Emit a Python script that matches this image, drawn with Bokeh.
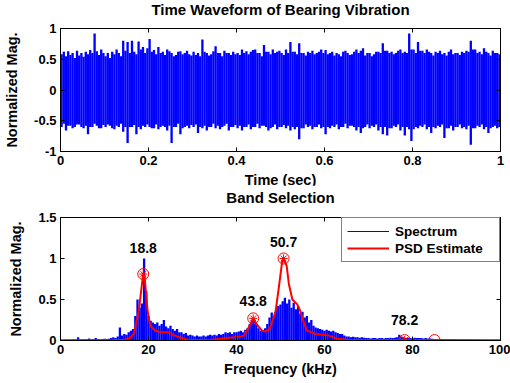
import numpy as np
from bokeh.plotting import figure
from bokeh.models import Range1d, LinearAxis, FixedTicker, Legend, LegendItem
from bokeh.layouts import column
from bokeh.embed import file_html
from bokeh.resources import INLINE
from bokeh.core.properties import value

FONT = "Liberation Sans"

# ---------------- data ----------------
# time waveform, one column every 0.005 s: positive and negative excursions
wave_up = [0.58, 0.62, 0.55, 0.63, 0.57, 0.60, 0.52, 0.64, 0.56, 0.60,
           0.54, 0.62, 0.58, 0.65, 0.60, 0.92, 0.63, 0.57, 0.66, 0.60,
           0.55, 0.60, 0.52, 0.62, 0.58, 0.66, 0.60, 0.55, 0.80, 0.64,
           0.78, 0.60, 0.80, 0.62, 0.58, 0.79, 0.66, 0.70, 0.60, 0.68,
           0.83, 0.62, 0.65, 0.58, 0.70, 0.60, 0.62, 0.57, 0.66, 0.63,
           0.60, 0.55, 0.57, 0.62, 0.63, 0.58, 0.60, 0.64, 0.58, 0.56,
           0.62, 0.57, 0.60, 0.55, 0.82, 0.62, 0.60, 0.56, 0.58, 0.63,
           0.71, 0.60, 0.60, 0.55, 0.64, 0.60, 0.60, 0.57, 0.62, 0.58,
           0.60, 0.57, 0.66, 0.60, 0.63, 0.58, 0.62, 0.65, 0.66, 0.60,
           0.60, 0.55, 0.73, 0.62, 0.62, 0.58, 0.66, 0.60, 0.62, 0.64,
           0.60, 0.57, 0.66, 0.60, 0.78, 0.62, 0.62, 0.58, 0.76, 0.60,
           0.60, 0.56, 0.62, 0.60, 0.64, 0.58, 0.60, 0.62, 0.66, 0.60,
           0.65, 0.58, 0.60, 0.62, 0.56, 0.60, 0.58, 0.55, 0.62, 0.64,
           0.60, 0.57, 0.58, 0.62, 0.66, 0.60, 0.64, 0.68, 0.56, 0.60,
           0.60, 0.55, 0.58, 0.62, 0.62, 0.60, 0.76, 0.64, 0.64, 0.60,
           0.62, 0.58, 0.60, 0.64, 0.66, 0.60, 0.62, 0.60, 0.92, 0.66,
           0.66, 0.60, 0.78, 0.64, 0.64, 0.60, 0.66, 0.62, 0.60, 0.56,
           0.62, 0.60, 0.64, 0.58, 0.60, 0.56, 0.62, 0.66, 0.58, 0.60,
           0.60, 0.57, 0.62, 0.60, 0.64, 0.62, 0.80, 0.66, 0.66, 0.60,
           0.62, 0.58, 0.68, 0.62, 0.60, 0.56, 0.64, 0.60, 0.60, 0.58]
wave_dn = [-0.60, -0.55, -0.66, -0.58, -0.58, -0.62, -0.60, -0.56, -0.56, -0.60,
           -0.62, -0.58, -0.72, -0.60, -0.60, -0.55, -0.58, -0.62, -0.62, -0.57,
           -0.60, -0.56, -0.58, -0.62, -0.64, -0.58, -0.60, -0.55, -0.68, -0.60,
           -0.86, -0.60, -0.60, -0.57, -0.72, -0.60, -0.64, -0.58, -0.60, -0.56,
           -0.60, -0.62, -0.62, -0.56, -0.64, -0.60, -0.58, -0.60, -0.66, -0.58,
           -0.86, -0.60, -0.60, -0.55, -0.72, -0.62, -0.60, -0.58, -0.62, -0.57,
           -0.60, -0.56, -0.70, -0.60, -0.62, -0.58, -0.66, -0.60, -0.60, -0.55,
           -0.62, -0.58, -0.64, -0.60, -0.58, -0.55, -0.66, -0.60, -0.60, -0.57,
           -0.62, -0.58, -0.66, -0.60, -0.60, -0.56, -0.64, -0.60, -0.60, -0.55,
           -0.62, -0.58, -0.58, -0.60, -0.66, -0.62, -0.60, -0.56, -0.64, -0.60,
           -0.60, -0.57, -0.62, -0.58, -0.66, -0.60, -0.64, -0.60, -0.80, -0.62,
           -0.62, -0.56, -0.60, -0.58, -0.64, -0.60, -0.60, -0.56, -0.62, -0.60,
           -0.72, -0.60, -0.62, -0.58, -0.60, -0.56, -0.64, -0.60, -0.60, -0.55,
           -0.62, -0.58, -0.58, -0.60, -0.66, -0.60, -0.70, -0.62, -0.60, -0.56,
           -0.62, -0.58, -0.60, -0.56, -0.66, -0.60, -0.72, -0.60, -0.74, -0.62,
           -0.62, -0.58, -0.60, -0.56, -0.66, -0.60, -0.74, -0.60, -0.64, -0.83,
           -0.64, -0.60, -0.62, -0.58, -0.60, -0.56, -0.64, -0.60, -0.70, -0.60,
           -0.62, -0.58, -0.60, -0.56, -0.78, -0.62, -0.62, -0.58, -0.66, -0.60,
           -0.60, -0.56, -0.62, -0.60, -0.64, -0.58, -0.89, -0.62, -0.62, -0.58,
           -0.60, -0.56, -0.64, -0.60, -0.70, -0.62, -0.60, -0.58, -0.62, -0.60]
wave_step = 0.005

# spectrum magnitude, bins every 0.5 kHz from 0 to 100 kHz
spectrum = [0.005, 0.006, 0.008, 0.006, 0.010, 0.008, 0.012, 0.010, 0.040, 0.012,
            0.010, 0.015, 0.012, 0.025, 0.012, 0.015, 0.030, 0.014, 0.012, 0.015,
            0.020, 0.015, 0.020, 0.030, 0.040, 0.030, 0.050, 0.160, 0.060, 0.080,
            0.070, 0.100, 0.120, 0.140, 0.300, 0.500, 0.400, 0.450, 1.000, 0.600,
            0.300, 0.240, 0.220, 0.200, 0.220, 0.180, 0.200, 0.250, 0.170, 0.150,
            0.180, 0.140, 0.120, 0.140, 0.100, 0.100, 0.080, 0.090, 0.060, 0.070,
            0.060, 0.050, 0.060, 0.050, 0.050, 0.060, 0.050, 0.060, 0.070, 0.060,
            0.070, 0.060, 0.080, 0.070, 0.080, 0.100, 0.090, 0.100, 0.080, 0.100,
            0.100, 0.110, 0.120, 0.100, 0.130, 0.150, 0.200, 0.250, 0.260, 0.200,
            0.150, 0.120, 0.120, 0.150, 0.200, 0.280, 0.340, 0.300, 0.380, 0.420,
            0.440, 0.480, 0.520, 0.450, 0.500, 0.400, 0.460, 0.380, 0.420, 0.330,
            0.350, 0.280, 0.300, 0.220, 0.250, 0.180, 0.160, 0.150, 0.140, 0.130,
            0.120, 0.130, 0.120, 0.110, 0.120, 0.100, 0.090, 0.080, 0.080, 0.060,
            0.050, 0.050, 0.040, 0.045, 0.040, 0.040, 0.035, 0.040, 0.035, 0.030,
            0.030, 0.025, 0.030, 0.030, 0.025, 0.030, 0.030, 0.025, 0.030, 0.030,
            0.035, 0.030, 0.035, 0.040, 0.070, 0.050, 0.040, 0.030, 0.035, 0.030,
            0.030, 0.035, 0.030, 0.030, 0.030, 0.025, 0.030, 0.025, 0.025, 0.020,
            0.015, 0.010, 0.010, 0.008, 0.006, 0.005, 0.005, 0.005, 0.005, 0.005,
            0.005, 0.004, 0.005, 0.006, 0.005, 0.004, 0.005, 0.005, 0.004, 0.005,
            0.006, 0.005, 0.004, 0.005, 0.005, 0.004, 0.005, 0.005, 0.004, 0.005,
            0.004]
spec_step = 0.5

# PSD estimate (red curve)
psd_freq = [0, 5, 10, 13, 14.7, 15.8, 16.6, 17.0, 17.8, 18.4, 18.8, 19.1, 19.4, 19.8,
            20.4, 21.5, 23.0, 24.5, 26.0, 27.5, 29.0, 31.0, 34.0, 36.4, 39.4, 41.0,
            41.7, 42.8, 43.8, 44.7, 45.8, 46.5, 47.3, 47.7, 48.9, 49.6, 50.4, 50.7,
            51.4, 51.9, 52.7, 53.8, 54.5, 55.3, 56.0, 58.0, 61.0, 62.9, 65, 70,
            78.2, 85, 100]
psd_mag = [0.003, 0.003, 0.003, 0.005, 0.010, 0.030, 0.080, 0.160, 0.360, 0.640,
           0.810, 0.780, 0.600, 0.360, 0.180, 0.120, 0.100, 0.100, 0.060, 0.030,
           0.010, 0.005, 0.005, 0.020, 0.040, 0.050, 0.060, 0.160, 0.270, 0.190,
           0.120, 0.110, 0.130, 0.160, 0.360, 0.640, 0.970, 1.000, 0.910, 0.690,
           0.500, 0.440, 0.360, 0.220, 0.120, 0.080, 0.060, 0.020, 0.008, 0.005,
           0.005, 0.005, 0.003]

peak_freq = [18.8, 43.8, 50.7, 78.2, 85.0]
peak_mag = [0.81, 0.27, 1.00, 0.005, 0.005]
star_freq = [18.8, 43.8, 50.7, 78.2]
star_mag = [0.81, 0.27, 1.00, 0.005]
label_freq = [18.8, 43.8, 50.7, 78.2]
label_mag = [1.13, 0.48, 1.20, 0.25]

time_ticks = [0, 0.2, 0.4, 0.6, 0.8, 1]
time_labels = ["0", "0.2", "0.4", "0.6", "0.8", "1"]
amp_ticks = [-1, -0.5, 0, 0.5, 1]
amp_labels = ["-1", "-0.5", "0", "0.5", "1"]
freq_ticks = [0, 20, 40, 60, 80, 100]
freq_labels = ["0", "20", "40", "60", "80", "100"]
mag_ticks = [0, 0.5, 1, 1.5]
mag_labels = ["0", "0.5", "1", "1.5"]

# ---------------- helpers ----------------
def style_axis(ax, ticks, labels, label_standoff):
    ax.ticker = FixedTicker(ticks=ticks, minor_ticks=[])
    ax.major_label_overrides = dict(zip(ticks, labels))
    ax.major_tick_in = 4
    ax.major_tick_out = 0
    ax.minor_tick_line_color = None
    ax.axis_line_color = "black"
    ax.major_tick_line_color = "black"
    ax.major_label_text_font = FONT
    ax.major_label_text_font_size = "13px"
    ax.major_label_text_font_style = "bold"
    ax.major_label_text_color = "black"
    ax.major_label_standoff = 4
    ax.axis_label_text_font = FONT
    ax.axis_label_text_font_size = "14.5px"
    ax.axis_label_text_font_style = "bold"
    ax.axis_label_text_color = "black"
    ax.axis_label_standoff = label_standoff


def mirror_axis(ticks, title=None, title_standoff=0):
    ax = LinearAxis(ticker=FixedTicker(ticks=ticks, minor_ticks=[]))
    ax.major_tick_in = 4
    ax.major_tick_out = 0
    ax.minor_tick_line_color = None
    ax.axis_line_color = "black"
    ax.major_tick_line_color = "black"
    ax.major_label_text_font_size = "0px"
    ax.major_label_standoff = 0
    ax.major_label_overrides = {t: "" for t in ticks}
    if title:
        ax.axis_label = title
        ax.axis_label_text_font = FONT
        ax.axis_label_text_font_size = "15px"
        ax.axis_label_text_font_style = "bold"
        ax.axis_label_text_color = "black"
        ax.axis_label_standoff = title_standoff
    return ax


def base_fig(h, top, bottom, xr, yr, shift):
    p = figure(width=510, height=h, x_range=xr, y_range=yr,
               output_backend="svg", toolbar_location=None,
               min_border_left=60, min_border_right=10,
               min_border_top=top, min_border_bottom=bottom,
               margin=(-shift, 0, 0, 0))
    p.xgrid.visible = False
    p.ygrid.visible = False
    p.outline_line_color = "black"
    p.outline_line_width = 1
    p.outline_line_alpha = 1
    p.background_fill_color = "white"
    p.border_fill_color = "white"
    return p

# ---------------- top: time waveform ----------------
p1 = base_fig(194, 32, 38, Range1d(0, 1), Range1d(-1, 1), 4)
wave_t = (np.arange(len(wave_up)) + 0.5) * wave_step
p1.vbar(x=wave_t, top=wave_up, bottom=wave_dn, width=wave_step * 1.05,
        fill_color="#0000FF", line_color=None)

style_axis(p1.xaxis[0], time_ticks, time_labels, 4)
style_axis(p1.yaxis[0], amp_ticks, amp_labels, 11)
p1.xaxis[0].axis_label = "Time (sec)"
p1.yaxis[0].axis_label = "Normalized Mag."
p1.add_layout(mirror_axis(time_ticks, "Time Waveform of Bearing Vibration", 11), "above")
p1.add_layout(mirror_axis(amp_ticks), "right")

# ---------------- bottom: band selection ----------------
p2 = base_fig(198, 32, 43, Range1d(0, 100), Range1d(0, 1.5), 5)
spec_freq = np.arange(len(spectrum)) * spec_step
p2.vbar(x=spec_freq, top=spectrum, bottom=0, width=spec_step * 1.04,
        fill_color="#0000FF", line_color=None)
spec_leg = p2.line(x=[0.0], y=[np.nan], line_color="#0000FF", line_width=1)
psd_r = p2.line(psd_freq, psd_mag, line_color="#FF0000", line_width=2)
p2.scatter(peak_freq, peak_mag, marker="circle", size=11, fill_color=None,
           line_color="#FF0000", line_width=1)
p2.scatter(star_freq, star_mag, marker="asterisk", size=8,
           line_color="#FF0000", line_width=1)
p2.text(x=label_freq, y=label_mag, text=[f"{f:.1f}" for f in label_freq],
        text_font=value(FONT), text_font_size="14px", text_font_style="bold",
        text_color="black", text_align="center", text_baseline="middle")

style_axis(p2.xaxis[0], freq_ticks, freq_labels, 4)
style_axis(p2.yaxis[0], mag_ticks, mag_labels, 11)
p2.xaxis[0].axis_label = "Frequency (kHz)"
p2.yaxis[0].axis_label = "Normalized Mag."
p2.add_layout(mirror_axis(freq_ticks, "Band Selection", 12), "above")
p2.add_layout(mirror_axis(mag_ticks), "right")

legend = Legend(items=[LegendItem(label="Spectrum", renderers=[spec_leg]),
                       LegendItem(label="PSD Estimate", renderers=[psd_r])],
                location="top_right", margin=0, padding=5, spacing=1,
                glyph_width=42, glyph_height=16, label_height=16,
                label_width=99, label_standoff=6,
                border_line_color="black", border_line_width=1,
                background_fill_color="white", background_fill_alpha=1,
                label_text_font=FONT, label_text_font_size="13.5px",
                label_text_font_style="bold", label_text_color="black")
p2.add_layout(legend)

layout = column(p1, p2, spacing=0)
open("out.html", "w").write(file_html(layout, INLINE))
